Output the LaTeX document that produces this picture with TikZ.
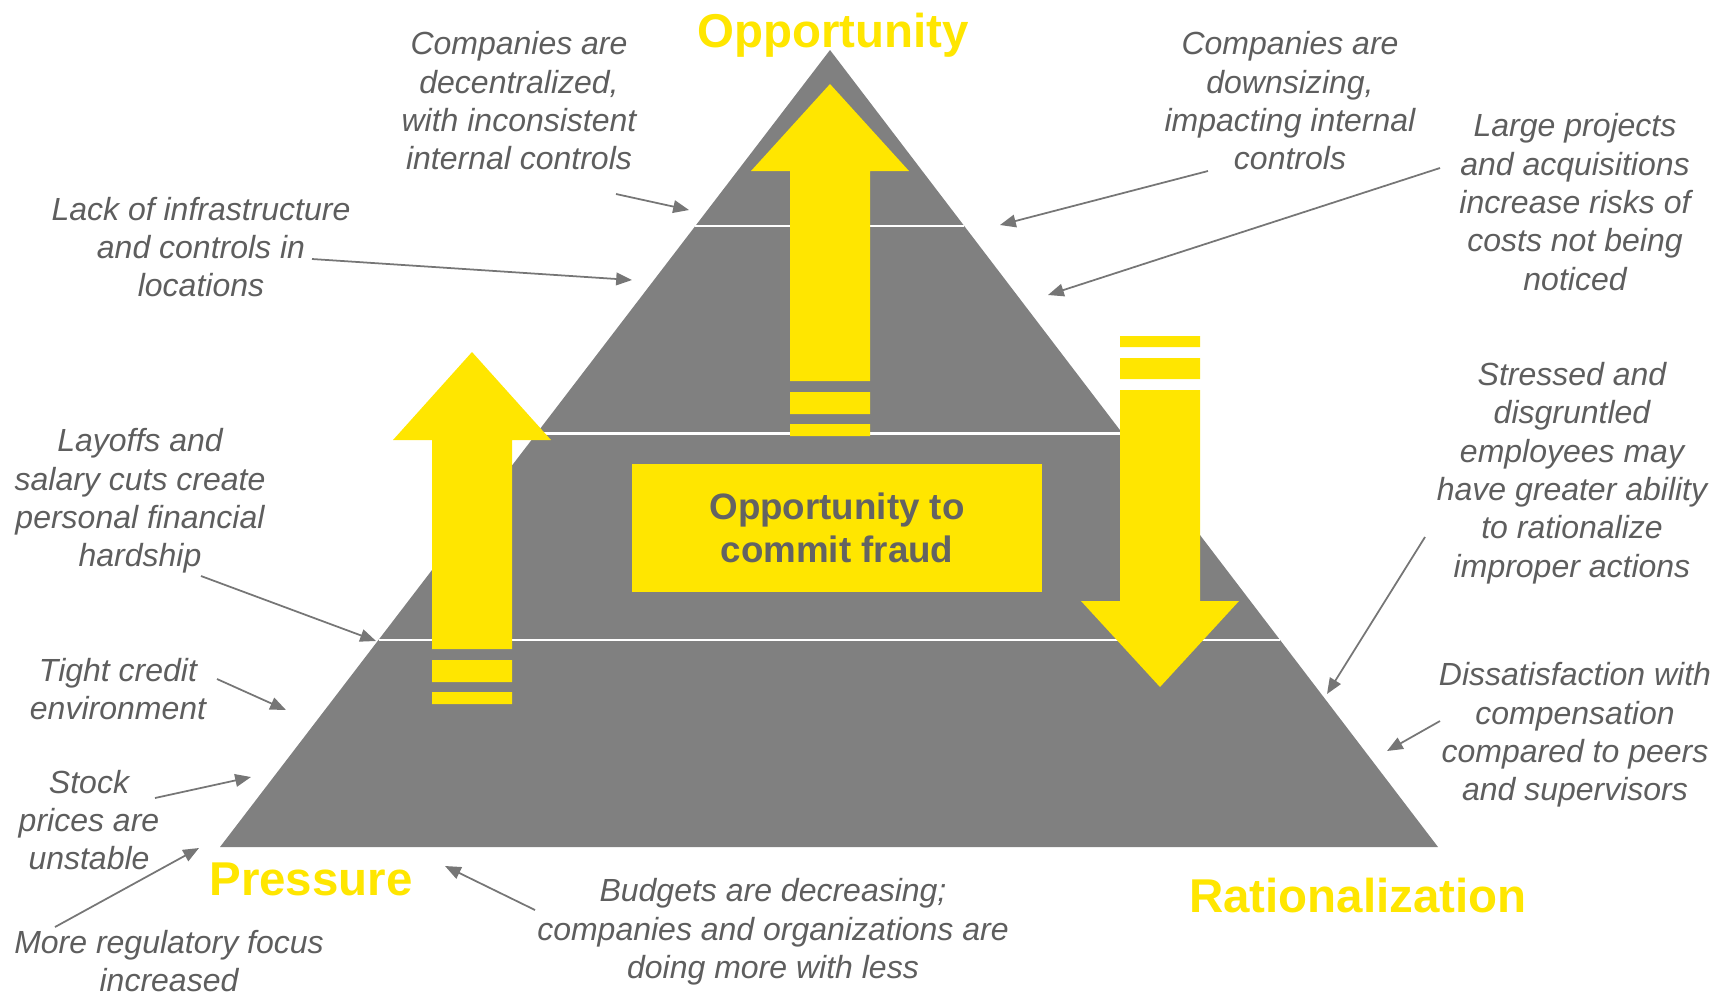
\documentclass[tikz,border=0pt]{standalone}
\usepackage{fontspec}
\setmainfont{Liberation Sans}
\usetikzlibrary{arrows.meta, calc}

\definecolor{fraudyellow}{RGB}{255,230,0}
\definecolor{pyramidgray}{RGB}{128,128,128}
\definecolor{notegray}{RGB}{94,94,94}
\definecolor{pointergray}{RGB}{118,118,118}

\begin{document}
\begin{tikzpicture}[
  x=0.01cm, y=-0.01cm,
  note/.style={align=center, inner sep=0pt, text=notegray,
               font=\fontsize{9.1}{10.9}\selectfont\itshape},
  corner/.style={anchor=base, inner sep=0pt, text=fraudyellow,
                 font=\fontsize{13.5}{16}\selectfont\bfseries},
  core/.style={fill=fraudyellow, text=notegray!105!black, align=center,
               minimum width=4.1cm, minimum height=1.27cm,
               font=\fontsize{10.45}{12.4}\selectfont\bfseries},
  ptr/.style={-{Triangle[length=4.5pt, width=3.6pt]}, line width=0.5pt, pointergray},
  band/.style={white, line width=0.7pt}
]
  \useasboundingbox (0,0) rectangle (1724,993);

  \coordinate (top) at (830,50);
  \coordinate (bl) at (220,847);
  \coordinate (br) at (1438,847);
  \fill[pyramidgray] (top) -- (br) -- (bl) -- cycle;
  \foreach \t in {0.221, 0.481, 0.740}
    \draw[band] ($(top)!\t!(bl)$) -- ($(top)!\t!(br)$);

  % block arrows with their broken tails
  \fill[fraudyellow] (830,84) -- (909,171) -- (870,171) -- (870,381) -- (790,381)
    -- (790,171) -- (751,171) -- cycle;
  \fill[fraudyellow] (790,392) rectangle (870,414) (790,424) rectangle (870,436);
  \fill[fraudyellow] (472,352) -- (551,440) -- (512,440) -- (512,649) -- (432,649)
    -- (432,440) -- (393,440) -- cycle;
  \fill[fraudyellow] (432,660) rectangle (512,682) (432,692) rectangle (512,704);
  \fill[fraudyellow] (1160,687) -- (1239,601) -- (1200,601) -- (1200,390) -- (1120,390)
    -- (1120,601) -- (1081,601) -- cycle;
  \fill[fraudyellow] (1120,336) rectangle (1200,347) (1120,358) rectangle (1200,379);

  \node[core] (fraud) at (837,528) {Opportunity to\\commit fraud};

  \node[corner] (opp) at (833,47) {Opportunity};
  \node[corner] (pres) at (311,895) {Pressure};
  \node[corner] (rat) at (1358,912) {Rationalization};

  \node[note] (decent) at (519,101) {Companies are\\decentralized,\\with inconsistent\\internal controls};
  \node[note] (downsz) at (1290,101) {Companies are\\downsizing,\\impacting internal\\controls};
  \node[note] (bigproj) at (1575,202) {Large projects\\and acquisitions\\increase risks of\\costs not being\\noticed};
  \node[note] (infra) at (201,247) {Lack of infrastructure\\and controls in\\locations};
  \node[note] (layoff) at (140,501) {Layoffs and\\salary cuts create\\personal financial\\hardship};
  \node[note] (credit) at (118,689) {Tight credit\\environment};
  \node[note] (stock) at (89,820) {Stock\\prices are\\unstable};
  \node[note] (regfocus) at (169,961) {More regulatory focus\\increased};
  \node[note] (budget) at (773,932) {Budgets are decreasing;\\companies and organizations are\\doing more with less};
  \node[note] (stress) at (1572,473) {Stressed and\\disgruntled\\employees may\\have greater ability\\to rationalize\\improper actions};
  \node[note] (dissat) at (1575,735) {Dissatisfaction with\\compensation\\compared to peers\\and supervisors};

  \coordinate (decent-a) at (616,194);   \coordinate (decent-b) at (689,210);
  \coordinate (downsz-a) at (1208,171);  \coordinate (downsz-b) at (1000,225);
  \coordinate (bigproj-a) at (1440,168); \coordinate (bigproj-b) at (1048,295);
  \coordinate (infra-a) at (312,259);    \coordinate (infra-b) at (632,280);
  \coordinate (layoff-a) at (201,576);   \coordinate (layoff-b) at (376,641);
  \coordinate (credit-a) at (217,679);   \coordinate (credit-b) at (286,710);
  \coordinate (stock-a) at (155,798);    \coordinate (stock-b) at (251,777);
  \coordinate (regfocus-a) at (55,927);  \coordinate (regfocus-b) at (199,848);
  \coordinate (budget-a) at (535,910);   \coordinate (budget-b) at (445,866);
  \coordinate (stress-a) at (1425,537);  \coordinate (stress-b) at (1327,694);
  \coordinate (dissat-a) at (1440,721);  \coordinate (dissat-b) at (1387,751);

  \foreach \n in {decent, downsz, bigproj, infra, layoff, credit, stock, regfocus, budget, stress, dissat}
    \draw[ptr] (\n-a) -- (\n-b);
\end{tikzpicture}
\end{document}
